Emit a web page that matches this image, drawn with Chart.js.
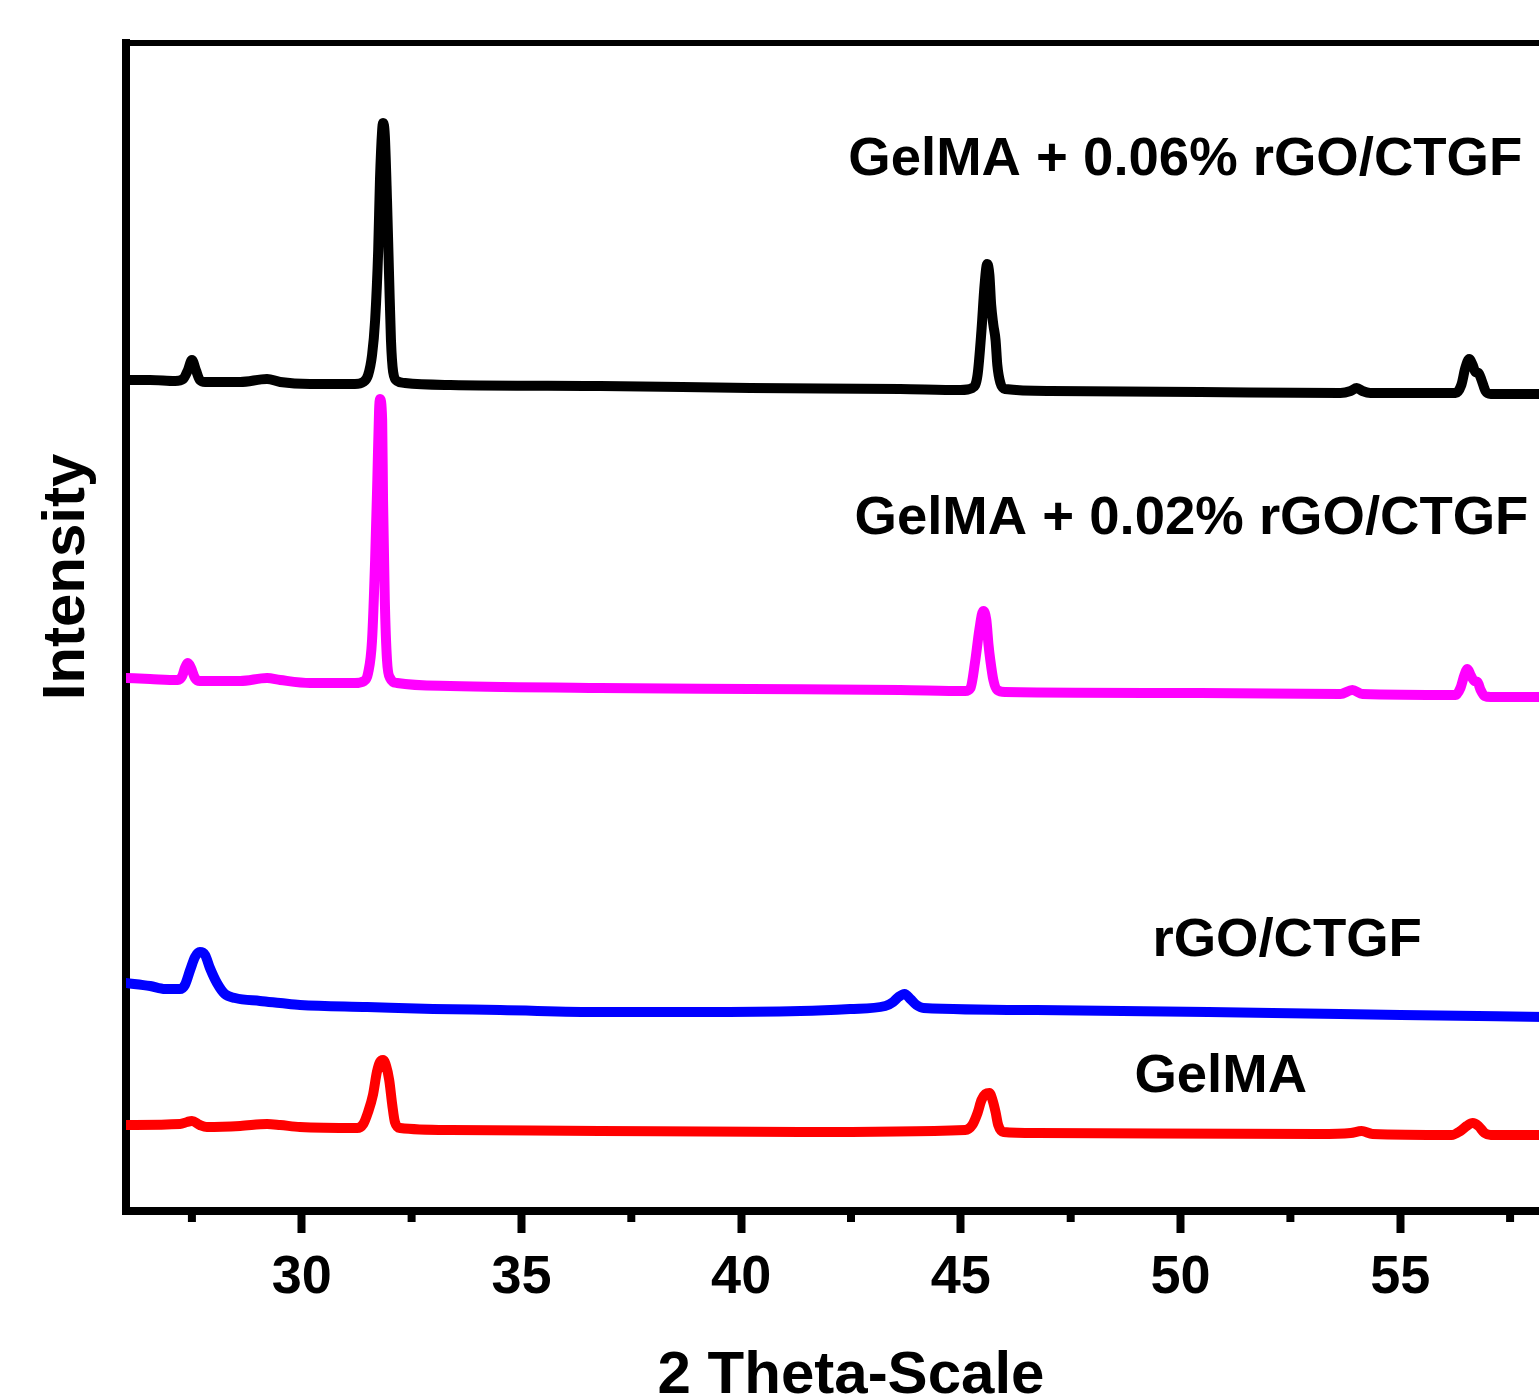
<!DOCTYPE html>
<html>
<head>
<meta charset="utf-8">
<title>XRD patterns</title>
<script src="https://cdn.jsdelivr.net/npm/chart.js@4.4.1/dist/chart.umd.min.js"></script>
<style>
  html, body { margin: 0; padding: 0; overflow: hidden; background: #fff; }
  #wrap { position: relative; width: 1576px; height: 1394px; }
</style>
</head>
<body>
<div id="wrap"><canvas id="xrd"></canvas></div>
<script>
// [2theta, intensity (a.u., curves stacked with offsets)]
const gelma06 = [
  [26.00, 831], [26.55, 831], [27.12, 830], [27.30, 832], [27.41, 841], [27.50, 851],
  [27.59, 841], [27.68, 831], [27.80, 829], [28.60, 829], [29.21, 832], [29.51, 829],
  [30.19, 827], [31.21, 827], [31.40, 829], [31.51, 836], [31.60, 856], [31.67, 891],
  [31.74, 961], [31.78, 1031], [31.83, 1081], [31.85, 1088], [31.89, 1076], [31.94, 1011],
  [31.99, 931], [32.03, 871], [32.08, 839], [32.17, 830], [32.35, 828], [33.38, 826],
  [36.79, 825], [40.21, 823], [43.62, 822], [44.99, 821], [45.26, 823], [45.38, 836],
  [45.47, 881], [45.54, 926], [45.60, 947], [45.65, 936], [45.69, 906], [45.74, 886],
  [45.79, 871], [45.83, 846], [45.90, 828], [46.01, 822], [47.04, 820], [50.45, 819],
  [53.64, 818], [53.87, 820], [54.01, 823], [54.14, 820], [54.32, 818], [56.26, 818],
  [56.39, 826], [56.48, 843], [56.57, 852], [56.65, 846], [56.71, 839], [56.78, 838],
  [56.85, 831], [56.94, 820], [57.06, 817], [58.30, 817]
];
const gelma02 = [
  [26.00, 533], [26.55, 532], [27.18, 531], [27.28, 535], [27.34, 543], [27.41, 548],
  [27.48, 543], [27.57, 533], [27.68, 530], [28.60, 530], [29.21, 533], [29.51, 531],
  [30.19, 528], [31.21, 528], [31.42, 530], [31.51, 538], [31.60, 571], [31.67, 651],
  [31.72, 731], [31.76, 801], [31.78, 812], [31.83, 791], [31.85, 711], [31.89, 611],
  [31.94, 551], [32.01, 533], [32.17, 528], [33.38, 525], [36.79, 523], [40.21, 522],
  [43.62, 521], [45.10, 520], [45.22, 523], [45.33, 551], [45.42, 581], [45.51, 600],
  [45.58, 591], [45.63, 566], [45.67, 551], [45.74, 531], [45.83, 521], [46.01, 519],
  [50.45, 518], [53.64, 517], [53.91, 521], [54.14, 517], [56.26, 516], [56.37, 523],
  [56.46, 536], [56.53, 542], [56.60, 536], [56.69, 530], [56.76, 529], [56.83, 521],
  [56.92, 515], [57.06, 514], [58.30, 514]
];
const rgoCtgf = [
  [26.00, 228], [26.55, 225], [26.89, 222], [27.23, 222], [27.34, 226], [27.46, 241],
  [27.57, 254], [27.68, 259], [27.80, 256], [27.91, 243], [28.07, 228], [28.25, 217],
  [28.48, 213], [29.05, 210], [29.51, 208], [29.96, 206], [31.49, 204], [32.99, 202],
  [34.52, 201], [36.79, 199], [39.07, 199], [41.35, 200], [42.48, 202], [43.28, 205],
  [43.46, 209], [43.58, 214], [43.72, 217], [43.85, 212], [43.99, 206], [44.15, 203],
  [46.72, 201], [52.09, 198], [55.01, 196], [58.30, 194]
];
const gelma = [
  [26.00, 86], [27.23, 87], [27.39, 89], [27.50, 90], [27.68, 86], [27.84, 84],
  [28.60, 85], [29.21, 87], [29.51, 86], [29.96, 84], [31.26, 83], [31.40, 87],
  [31.51, 99], [31.62, 116], [31.71, 139], [31.78, 149], [31.85, 151], [31.92, 145],
  [31.99, 131], [32.06, 106], [32.12, 89], [32.24, 83], [33.38, 81], [36.79, 80],
  [41.35, 79], [45.10, 81], [45.26, 86], [45.38, 98], [45.47, 111], [45.56, 117],
  [45.65, 118], [45.72, 111], [45.79, 99], [45.85, 86], [45.97, 79], [46.72, 78],
  [53.16, 77], [53.87, 78], [54.12, 80], [54.37, 77], [56.17, 76], [56.37, 80],
  [56.51, 85], [56.65, 88], [56.78, 85], [56.92, 78], [57.06, 76], [58.30, 76]
];

const seriesNames = ['GelMA + 0.06% rGO/CTGF', 'GelMA + 0.02% rGO/CTGF', 'rGO/CTGF', 'GelMA'];
const seriesColors = ['#000000', '#ff00ff', '#0000ff', '#ff0000'];
const majorTicks = [30, 35, 40, 45, 50, 55];

// where each curve name sits, [2theta, intensity]
const labelAt = [[42.44, 1051], [42.58, 692], [49.36, 270], [48.95, 134]];

const FONT = '"Liberation Sans", Arial, sans-serif';

const minorTicks = {
  id: 'minorTicks',
  afterDraw(chart) {
    const {ctx, scales: {x}} = chart;
    ctx.save();
    ctx.strokeStyle = '#000';
    ctx.lineWidth = 8;
    x.ticks.forEach(t => {
      if (majorTicks.includes(t.value)) return;
      const px = x.getPixelForValue(t.value);
      ctx.beginPath();
      ctx.moveTo(px, x.top);
      ctx.lineTo(px, x.top + 11);
      ctx.stroke();
    });
    ctx.restore();
  }
};

const curveLabels = {
  id: 'curveLabels',
  afterDatasetsDraw(chart) {
    const {ctx, scales: {x, y}} = chart;
    ctx.save();
    ctx.fillStyle = '#000';
    ctx.font = 'bold 54.5px ' + FONT;
    ctx.textAlign = 'left';
    ctx.textBaseline = 'middle';
    seriesNames.forEach((name, i) => {
      ctx.fillText(name, x.getPixelForValue(labelAt[i][0]), y.getPixelForValue(labelAt[i][1]));
    });
    // y axis title, sits a bit above the middle of the axis
    ctx.font = 'bold 60px ' + FONT;
    ctx.textAlign = 'center';
    ctx.translate(y.left + 67, y.getPixelForValue(634));
    ctx.rotate(-Math.PI / 2);
    ctx.fillText('Intensity', 0, 0);
    ctx.restore();
  }
};

const datasets = [gelma06, gelma02, rgoCtgf, gelma].map((curve, i) => ({
  label: seriesNames[i],
  data: curve.map(([x, y]) => ({x, y})),
  borderColor: seriesColors[i],
  borderWidth: 10,
  pointRadius: 0,
  fill: false,
  cubicInterpolationMode: 'monotone',
  borderJoinStyle: 'round',
  borderCapStyle: 'round'
}));

new Chart(document.getElementById('xrd'), {
  type: 'line',
  data: {datasets},
  plugins: [minorTicks, curveLabels],
  options: {
    responsive: true,
    maintainAspectRatio: false,
    devicePixelRatio: 1,
    animation: false,
    layout: {padding: 0},
    plugins: {legend: {display: false}, tooltip: {enabled: false}},
    scales: {
      x: {
        type: 'linear',
        position: 'bottom',
        min: 26,
        max: 59,
        afterFit: s => { s.height = 183; },
        border: {display: true, color: '#000', width: 8},
        grid: {
          display: true,
          drawOnChartArea: false,
          drawTicks: true,
          tickLength: 22,
          tickWidth: 8,
          tickColor: c => majorTicks.includes(c.tick.value) ? '#000' : 'rgba(0,0,0,0)'
        },
        ticks: {
          stepSize: 2.5,
          includeBounds: false,
          autoSkip: false,
          maxRotation: 0,
          padding: 13,
          color: '#000',
          font: {family: FONT, size: 54, weight: 'bold'},
          callback: v => majorTicks.includes(v) ? String(v) : ''
        },
        title: {
          display: true,
          text: '2 Theta-Scale',
          color: '#000',
          padding: 0,
          font: {family: FONT, size: 60, weight: 'bold', lineHeight: 0.6}
        }
      },
      xTop: {
        type: 'linear',
        position: 'top',
        min: 26,
        max: 59,
        afterFit: s => { s.height = 43; },
        border: {display: true, color: '#000', width: 6},
        grid: {display: true, drawOnChartArea: false, drawTicks: false},
        ticks: {display: false}
      },
      y: {
        type: 'linear',
        min: 0,
        max: 1168,
        afterFit: s => { s.width = 126; },
        border: {display: true, color: '#000', width: 8},
        grid: {display: true, drawOnChartArea: false, drawTicks: false},
        ticks: {display: false}
      }
    }
  }
});
</script>
</body>
</html>
